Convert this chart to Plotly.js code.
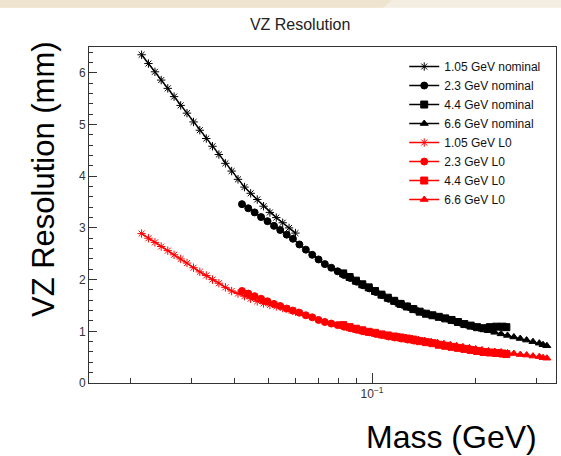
<!DOCTYPE html>
<html>
<head>
<meta charset="utf-8">
<script src="https://cdn.plot.ly/plotly-3.0.1.min.js"></script>
<style>html,body{margin:0;padding:0;background:#fff;}#chart{width:561px;height:456px;}</style>
</head>
<body>
<div id="chart"></div>
<script>
// Mass points (GeV) for each beam energy
const mass105 = [0.0215,0.0225,0.0235,0.0245,0.0256,0.0267,0.0279,0.0291,0.0304,0.0317,0.0331,0.0345,0.0360,0.0376,0.0392,0.0409,0.0427,0.0445,0.0465,0.0485,0.0506,0.0528,0.0551,0.0575,0.0600];
const mass23 = [0.0420,0.0438,0.0457,0.0477,0.0498,0.0520,0.0542,0.0566,0.0590,0.0616,0.0643,0.0671,0.0700,0.0730,0.0762,0.0795,0.0830,0.0866,0.0903,0.0942,0.0983,0.1026,0.1070,0.1117,0.1165,0.1216,0.1269,0.1324];
const mass44 = [0.0825,0.0861,0.0898,0.0937,0.0978,0.1020,0.1065,0.1111,0.1159,0.1210,0.1262,0.1317,0.1374,0.1434,0.1496,0.1561,0.1629,0.1700,0.1774,0.1851,0.1931,0.2015,0.2103,0.2194,0.2289,0.2389,0.2450];
const mass66 = [0.1200,0.1252,0.1306,0.1363,0.1422,0.1484,0.1548,0.1615,0.1685,0.1758,0.1834,0.1914,0.1997,0.2083,0.2174,0.2268,0.2366,0.2469,0.2576,0.2688,0.2804,0.2926,0.3053,0.3130,0.3210];

// VZ resolution (mm)
const nom105 = [6.35,6.18,6.02,5.86,5.70,5.54,5.37,5.22,5.05,4.89,4.73,4.58,4.42,4.25,4.10,3.94,3.79,3.67,3.55,3.42,3.30,3.20,3.10,3.00,2.90];
const nom23 = [3.46,3.38,3.30,3.21,3.13,3.04,2.96,2.87,2.79,2.68,2.58,2.48,2.39,2.30,2.23,2.16,2.09,2.03,1.96,1.89,1.83,1.76,1.70,1.63,1.58,1.53,1.48,1.43];
const nom44 = [2.12,2.05,1.98,1.91,1.85,1.78,1.71,1.65,1.59,1.53,1.48,1.43,1.38,1.34,1.31,1.28,1.25,1.22,1.18,1.14,1.11,1.08,1.06,1.08,1.09,1.09,1.08];
const nom66 = [1.52,1.48,1.44,1.39,1.35,1.31,1.28,1.25,1.22,1.18,1.14,1.10,1.07,1.04,1.01,0.98,0.95,0.92,0.89,0.86,0.83,0.80,0.77,0.74,0.72];
const l0105 = [2.89,2.80,2.72,2.64,2.56,2.48,2.40,2.32,2.23,2.15,2.08,2.00,1.93,1.85,1.78,1.73,1.68,1.63,1.58,1.54,1.51,1.48,1.45,1.42,1.38];
const l023 = [1.78,1.73,1.68,1.63,1.58,1.53,1.49,1.44,1.40,1.36,1.31,1.27,1.22,1.18,1.15,1.12,1.09,1.06,1.03,1.00,0.98,0.95,0.93,0.90,0.88,0.86,0.84,0.82];
const l044 = [1.12,1.08,1.05,1.02,0.99,0.97,0.94,0.92,0.90,0.88,0.86,0.84,0.81,0.79,0.77,0.74,0.72,0.70,0.68,0.66,0.64,0.62,0.60,0.59,0.58,0.57,0.56];
const l066 = [0.90,0.88,0.86,0.84,0.82,0.80,0.78,0.76,0.74,0.72,0.70,0.68,0.66,0.64,0.62,0.61,0.60,0.58,0.57,0.55,0.54,0.52,0.51,0.49,0.48];

const seriesNames = ["1.05 GeV nominal","2.3 GeV nominal","4.4 GeV nominal","6.6 GeV nominal","1.05 GeV L0","2.3 GeV L0","4.4 GeV L0","6.6 GeV L0"];
const xTickVals = [0.1];
const xTickText = ["10<sup>\u22121</sup>"];
const xMinorVals = [0.02,0.03,0.04,0.05,0.06,0.07,0.08,0.09,0.2,0.3];

const xs = [mass105, mass23, mass44, mass66, mass105, mass23, mass44, mass66];
const ys = [nom105, nom23, nom44, nom66, l0105, l023, l044, l066];
const symbols = ["asterisk-open","circle","square","triangle-up","asterisk-open","circle","square","triangle-up"];
const colors = ["#000000","#000000","#000000","#000000","#ff0000","#ff0000","#ff0000","#ff0000"];
const sizes = [7,7,7,7,7,7,7,7];

const data = seriesNames.map((n,i)=>({
  type:"scatter", mode:"lines+markers", name:n,
  x: xs[i], y: ys[i],
  line:{color:colors[i], width:1.5},
  marker:{symbol:symbols[i], color:colors[i], size:sizes[i], line:{color:colors[i], width:1}}
}));

const font = "Liberation Sans, Arial, sans-serif";
const layout = {
  width:561, height:456,
  margin:{l:89, r:5, t:47, b:73},
  paper_bgcolor:"#ffffff", plot_bgcolor:"#ffffff",
  font:{family:font, color:"#333333", size:12},
  title:{text:"VZ Resolution", font:{family:font, size:16, color:"#222222"}, x:0.535, xanchor:"center", y:0.947, yanchor:"middle"},
  showlegend:true,
  legend:{x:0.675, y:0.985, xanchor:"left", yanchor:"top", bgcolor:"rgba(255,255,255,0)", borderwidth:0,
          font:{family:font, size:12, color:"#111111"}, itemwidth:30, tracegroupgap:0},
  xaxis:{type:"log", range:[-1.820,-0.467], showgrid:false, zeroline:false,
         showline:true, mirror:true, linecolor:"#333333", linewidth:1,
         ticks:"inside", ticklen:10, tickcolor:"#333333", tickmode:"array", tickvals:xTickVals, ticktext:xTickText,
         tickfont:{family:font, size:12, color:"#333333"},
         minor:{tickmode:"array", tickvals:xMinorVals, ticks:"inside", ticklen:5, tickcolor:"#333333", showgrid:false}},
  yaxis:{range:[0,6.5], showgrid:false, zeroline:false,
         showline:true, mirror:true, linecolor:"#333333", linewidth:1,
         ticks:"inside", ticklen:8, tickcolor:"#333333", tickmode:"linear", tick0:0, dtick:1,
         tickfont:{family:font, size:12, color:"#333333"},
         minor:{ticks:"inside", ticklen:4, dtick:0.2, tick0:0, tickcolor:"#333333", showgrid:false}},
  shapes:[
    {type:"rect", xref:"paper", yref:"paper", x0:-0.2, x1:1.02, y0:1.117, y1:1.145, fillcolor:"#f4eee2", line:{width:0}, layer:"below"},
    {type:"path", xref:"paper", yref:"paper", path:"M -0.2 1.145 L 0.652 1.145 L 0.630 1.117 L -0.2 1.117 Z", fillcolor:"#efe4cf", line:{width:0}, layer:"below"}
  ],
  annotations:[
    {text:"VZ Resolution (mm)", xref:"paper", yref:"paper", x:-0.0985, y:0.607, textangle:-90, showarrow:false,
     xanchor:"center", yanchor:"middle", font:{family:font, size:31, color:"#000000"}},
    {text:"Mass (GeV)", xref:"paper", yref:"paper", x:0.777, y:-0.161, showarrow:false,
     xanchor:"center", yanchor:"middle", font:{family:font, size:32, color:"#000000"}}
  ]
};

Plotly.newPlot("chart", data, layout, {displayModeBar:false, staticPlot:true});
</script>
</body>
</html>
